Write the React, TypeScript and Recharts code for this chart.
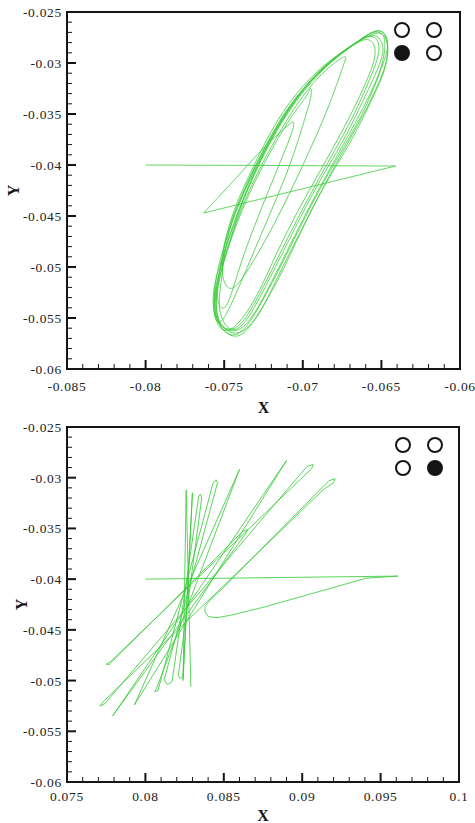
import { ScatterChart, Scatter, XAxis, YAxis, ReferenceArea } from 'recharts';

type Pair = [number, number];

const yMajor = [-0.06, -0.055, -0.05, -0.045, -0.04, -0.035, -0.03, -0.025];
const topXMajor = [-0.085, -0.08, -0.075, -0.07, -0.065, -0.06];
const bottomXMajor = [0.075, 0.08, 0.085, 0.09, 0.095, 0.1];

// which of the 4 markers is filled: top-left, top-right, bottom-left, bottom-right
const topSensor = [false, false, true, false];
const bottomSensor = [false, false, false, true];

// upper panel: the start kick (straight segments)
const topKick: Pair[] = [
  [-0.08, -0.04],
  [-0.0641, -0.0401],
  [-0.0763, -0.0447],
];

// upper panel: loops after the kick
const topOrbit: Pair[] = [
  [-0.0763, -0.0447], [-0.0754, -0.0432], [-0.0742, -0.0412], [-0.0729, -0.039],
  [-0.0718, -0.0373], [-0.071, -0.0362], [-0.0706, -0.0358], [-0.0707, -0.0368],
  [-0.0713, -0.0392], [-0.0722, -0.0426], [-0.0731, -0.0461], [-0.0739, -0.0495],
  [-0.0745, -0.0524], [-0.075, -0.054], [-0.0754, -0.0533], [-0.0753, -0.0512],
  [-0.0748, -0.0484], [-0.074, -0.045], [-0.073, -0.0415], [-0.0718, -0.038],
  [-0.0706, -0.035], [-0.0698, -0.0333], [-0.0695, -0.0325], [-0.0695, -0.0334],
  [-0.0699, -0.0356], [-0.0706, -0.039], [-0.0716, -0.043], [-0.0727, -0.047],
  [-0.0738, -0.051], [-0.0746, -0.0538], [-0.0752, -0.0553], [-0.0756, -0.0548],
  [-0.0756, -0.0525], [-0.0751, -0.0495], [-0.0742, -0.0455], [-0.0731, -0.0415],
  [-0.0717, -0.0374], [-0.0702, -0.0337], [-0.0688, -0.0311], [-0.0678, -0.0298],
  [-0.0673, -0.0294], [-0.0675, -0.0306], [-0.0683, -0.034], [-0.0694, -0.038],
  [-0.0706, -0.042], [-0.0719, -0.046], [-0.0731, -0.0493], [-0.074, -0.0514],
  [-0.0746, -0.0521], [-0.075, -0.0514], [-0.0751, -0.0495],
  // loop A
  [-0.0746, -0.0455], [-0.0734, -0.041], [-0.072, -0.0367], [-0.0704, -0.033],
  [-0.0686, -0.0302], [-0.0669, -0.0283], [-0.0656, -0.0272], [-0.0649, -0.0273],
  [-0.0648, -0.0288], [-0.0652, -0.0312], [-0.0662, -0.0345], [-0.0676, -0.0385],
  [-0.0692, -0.043], [-0.0707, -0.0475], [-0.072, -0.0515], [-0.0732, -0.0548],
  [-0.0742, -0.0562], [-0.0751, -0.0558], [-0.0755, -0.0538], [-0.0753, -0.0505],
  // loop B
  [-0.0745, -0.0462], [-0.0733, -0.0415], [-0.0718, -0.0368], [-0.0701, -0.0328],
  [-0.0683, -0.0299], [-0.0666, -0.028], [-0.0655, -0.027], [-0.0648, -0.0274],
  [-0.0646, -0.029], [-0.065, -0.0313], [-0.0659, -0.0343], [-0.0672, -0.038],
  [-0.0687, -0.0422], [-0.0702, -0.0467], [-0.0716, -0.051], [-0.0728, -0.0546],
  [-0.074, -0.0564], [-0.075, -0.056], [-0.0756, -0.0542], [-0.0755, -0.051],
  // loop C
  [-0.0748, -0.047], [-0.0737, -0.0425], [-0.0723, -0.038], [-0.0707, -0.034],
  [-0.069, -0.0309], [-0.0673, -0.0287], [-0.066, -0.0275], [-0.0653, -0.0277],
  [-0.0652, -0.0292], [-0.0658, -0.0318], [-0.0668, -0.0352], [-0.0682, -0.0392],
  [-0.0698, -0.0437], [-0.0713, -0.0482], [-0.0726, -0.0522], [-0.0737, -0.0551],
  [-0.0746, -0.0561], [-0.0754, -0.0553], [-0.0756, -0.053], [-0.0752, -0.0498],
  // loop F
  [-0.0749, -0.0472], [-0.0739, -0.043], [-0.0726, -0.0388], [-0.0711, -0.0348],
  [-0.0694, -0.0316], [-0.0678, -0.0294], [-0.0665, -0.028], [-0.0657, -0.0278],
  [-0.0654, -0.0291], [-0.0659, -0.0316], [-0.067, -0.0352], [-0.0685, -0.0395],
  [-0.0702, -0.0442], [-0.0717, -0.0488], [-0.0729, -0.0527], [-0.074, -0.0553],
  [-0.0748, -0.0562], [-0.0754, -0.0556], [-0.0757, -0.0535], [-0.0754, -0.0505],
  // loop D
  [-0.0743, -0.0455], [-0.0731, -0.041], [-0.0716, -0.0365], [-0.0699, -0.0327],
  [-0.0681, -0.0298], [-0.0664, -0.0278], [-0.0654, -0.0269], [-0.0648, -0.0272],
  [-0.0646, -0.0288], [-0.0649, -0.0311], [-0.0658, -0.0342], [-0.067, -0.0378],
  [-0.0686, -0.042], [-0.0701, -0.0465], [-0.0715, -0.051], [-0.0728, -0.0545],
  [-0.0738, -0.0565], [-0.0747, -0.0566], [-0.0754, -0.055], [-0.0754, -0.0518],
  // loop E
  [-0.0747, -0.0478], [-0.0738, -0.0435], [-0.0725, -0.039], [-0.0709, -0.0347],
  [-0.0692, -0.0313], [-0.0675, -0.029], [-0.0661, -0.0276], [-0.0653, -0.0274],
  [-0.0649, -0.0286], [-0.0653, -0.0308], [-0.0662, -0.0338], [-0.0674, -0.0375],
  [-0.069, -0.0418], [-0.0705, -0.0462], [-0.0719, -0.0505], [-0.0731, -0.054],
  [-0.0741, -0.056], [-0.0749, -0.0557], [-0.0753, -0.054], [-0.0752, -0.0515],
  // loop G
  [-0.0747, -0.0466], [-0.0736, -0.0422], [-0.0721, -0.0376], [-0.0704, -0.0335],
  [-0.0686, -0.0304], [-0.0668, -0.0282], [-0.0656, -0.027], [-0.0649, -0.027],
  [-0.0646, -0.0283], [-0.065, -0.0305], [-0.0658, -0.0336], [-0.067, -0.0372],
  [-0.0686, -0.0415], [-0.0702, -0.0462], [-0.0716, -0.0505], [-0.0729, -0.0542],
  [-0.0739, -0.0563], [-0.0748, -0.0565], [-0.0755, -0.0548], [-0.0755, -0.052],
];

// lower panel: whole path
const bottomOrbit: Pair[] = [
  [0.08, -0.04], [0.0961, -0.0397], [0.0941, -0.0399], [0.0909, -0.0413],
  [0.0877, -0.0427], [0.0856, -0.0435], [0.0846, -0.0438], [0.084, -0.0437],
  [0.0838, -0.0432], [0.0838, -0.0427], [0.0841, -0.0421], [0.0848, -0.0411],
  [0.0917, -0.0303], [0.0921, -0.0301], [0.092, -0.0305], [0.0914, -0.0311],
  [0.0773, -0.0521], [0.0771, -0.0525], [0.0774, -0.0523],
  [0.0903, -0.0289], [0.0907, -0.0287], [0.0906, -0.0291],
  [0.0778, -0.0481], [0.0775, -0.0484], [0.0777, -0.0484],
  [0.0862, -0.0353], [0.0865, -0.0351], [0.0864, -0.0355],
  [0.0779, -0.0535], [0.089, -0.0283], [0.0793, -0.0524], [0.086, -0.0292],
  [0.0807, -0.0508], [0.0806, -0.0511], [0.0808, -0.051],
  [0.0843, -0.0306], [0.0845, -0.0302], [0.0846, -0.0305],
  [0.0812, -0.0499], [0.0814, -0.0504], [0.0817, -0.0501],
  [0.0834, -0.0318], [0.0835, -0.0316], [0.0836, -0.0319],
  [0.0821, -0.0495], [0.0822, -0.0498], [0.0824, -0.0496],
  [0.083, -0.0315], [0.0824, -0.05], [0.0826, -0.0312], [0.0829, -0.0506],
];

const SERIF = '"Liberation Serif", "Times New Roman", serif';
const INK = '#151515';
const GREEN = '#3ccc3c';

const toPoints = (p: Pair[]) => p.map(([x, y]) => ({ x, y }));

// majors plus 4 minor ticks between each pair
function withMinor(majors: number[]) {
  const out: number[] = [];
  majors.forEach((m, i) => {
    out.push(m);
    if (i < majors.length - 1) {
      const step = (majors[i + 1] - m) / 5;
      for (let k = 1; k < 5; k++) out.push(Math.round((m + step * k) * 1e5) / 1e5);
    }
  });
  return out;
}

const noDot = () => <g />;

function XTick(props: any) {
  const { x, y, payload, majors, labelDy } = props;
  const major = majors.includes(payload.value);
  return (
    <g>
      <line x1={x} x2={x} y1={y} y2={y - (major ? 9 : 5)} stroke={INK} strokeWidth={major ? 2 : 1} />
      {major && (
        <text x={x} y={y + labelDy} textAnchor="middle" fontFamily={SERIF} fontSize={13.5} letterSpacing={0.7} fill="#222">
          {String(payload.value)}
        </text>
      )}
    </g>
  );
}

function YTick(props: any) {
  const { x, y, payload, majors } = props;
  const major = majors.includes(payload.value);
  return (
    <g>
      <line x1={x} x2={x + (major ? 9 : 5)} y1={y} y2={y} stroke={INK} strokeWidth={major ? 2 : 1} />
      {major && (
        <text x={x - 5} y={y + 5} textAnchor="end" fontFamily={SERIF} fontSize={13.5} letterSpacing={0.7} fill="#222">
          {String(payload.value)}
        </text>
      )}
    </g>
  );
}

function SensorMap({ filled, left, top }: { filled: boolean[]; left: number; top: number }) {
  return (
    <div
      style={{
        position: 'absolute',
        left,
        top,
        display: 'grid',
        gridTemplateColumns: '16px 16px',
        columnGap: 16,
        rowGap: 7,
      }}
    >
      {filled.map((f, i) => (
        <div
          key={i}
          style={{
            width: 16,
            height: 16,
            boxSizing: 'border-box',
            borderRadius: '50%',
            border: `2px solid ${INK}`,
            background: f ? INK : '#fff',
          }}
        />
      ))}
    </div>
  );
}

interface PanelProps {
  top: number;
  height: number;
  right: number;
  xAxisHeight: number;
  xDomain: [number, number];
  xMajor: number[];
  labelDy: number;
  yTitleX: number;
  xTitleOffset: number;
  children: React.ReactNode;
}

function Panel({ top, height, right, xAxisHeight, xDomain, xMajor, labelDy, yTitleX, xTitleOffset, children }: PanelProps) {
  const plotTop = 12;
  const plotBottom = height - xAxisHeight;
  const cy = (plotTop + plotBottom) / 2;
  return (
    <div style={{ position: 'absolute', left: 0, top }}>
      <ScatterChart width={475} height={height} margin={{ top: plotTop, right, bottom: 0, left: 0 }}>
        <XAxis
          type="number"
          dataKey="x"
          domain={xDomain}
          ticks={withMinor(xMajor)}
          interval={0}
          height={xAxisHeight}
          tickSize={0}
          tickMargin={0}
          tickLine={false}
          axisLine={false}
          tick={<XTick majors={xMajor} labelDy={labelDy} />}
          label={{
            value: 'X',
            position: 'insideBottom',
            offset: xTitleOffset,
            fontFamily: SERIF,
            fontWeight: 700,
            fontSize: 16,
            fill: INK,
          }}
        />
        <YAxis
          type="number"
          dataKey="y"
          domain={[-0.06, -0.025]}
          ticks={withMinor(yMajor)}
          interval={0}
          width={67}
          tickSize={0}
          tickMargin={0}
          tickLine={false}
          axisLine={false}
          tick={<YTick majors={yMajor} />}
        />
        {children}
        <ReferenceArea
          x1={xDomain[0]}
          x2={xDomain[1]}
          y1={-0.06}
          y2={-0.025}
          fill="none"
          stroke={INK}
          strokeWidth={2}
          ifOverflow="visible"
        />
      </ScatterChart>
      <svg width={30} height={height} style={{ position: 'absolute', left: 0, top: 0, pointerEvents: 'none' }}>
        <text
          x={yTitleX}
          y={cy}
          transform={`rotate(-90 ${yTitleX} ${cy})`}
          textAnchor="middle"
          dominantBaseline="central"
          fontFamily={SERIF}
          fontWeight={700}
          fontSize={16}
          fill={INK}
        >
          Y
        </text>
      </svg>
    </div>
  );
}

export default function App() {
  return (
    <div style={{ position: 'relative', width: 475, height: 823, background: '#fff' }}>
      <style>{'body{margin:0}'}</style>
      <Panel
        top={0}
        height={415}
        right={15}
        xAxisHeight={46}
        xDomain={[-0.085, -0.06]}
        xMajor={topXMajor}
        labelDy={22}
        yTitleX={13}
        xTitleOffset={2}
      >
        <Scatter
          data={toPoints(topKick)}
          line={{ stroke: GREEN, strokeWidth: 0.8 }}
          lineJointType="linear"
          shape={noDot}
          fill={GREEN}
          isAnimationActive={false}
        />
        <Scatter
          data={toPoints(topOrbit)}
          line={{ stroke: GREEN, strokeWidth: 0.8 }}
          lineJointType="natural"
          shape={noDot}
          fill={GREEN}
          isAnimationActive={false}
        />
      </Panel>
      <Panel
        top={415}
        height={408}
        right={16}
        xAxisHeight={41}
        xDomain={[0.075, 0.1]}
        xMajor={bottomXMajor}
        labelDy={19}
        yTitleX={21}
        xTitleOffset={2}
      >
        <Scatter
          data={toPoints(bottomOrbit)}
          line={{ stroke: GREEN, strokeWidth: 0.85 }}
          lineJointType="linear"
          shape={noDot}
          fill={GREEN}
          isAnimationActive={false}
        />
      </Panel>
      <SensorMap filled={topSensor} left={394} top={22} />
      <SensorMap filled={bottomSensor} left={395} top={437} />
    </div>
  );
}
